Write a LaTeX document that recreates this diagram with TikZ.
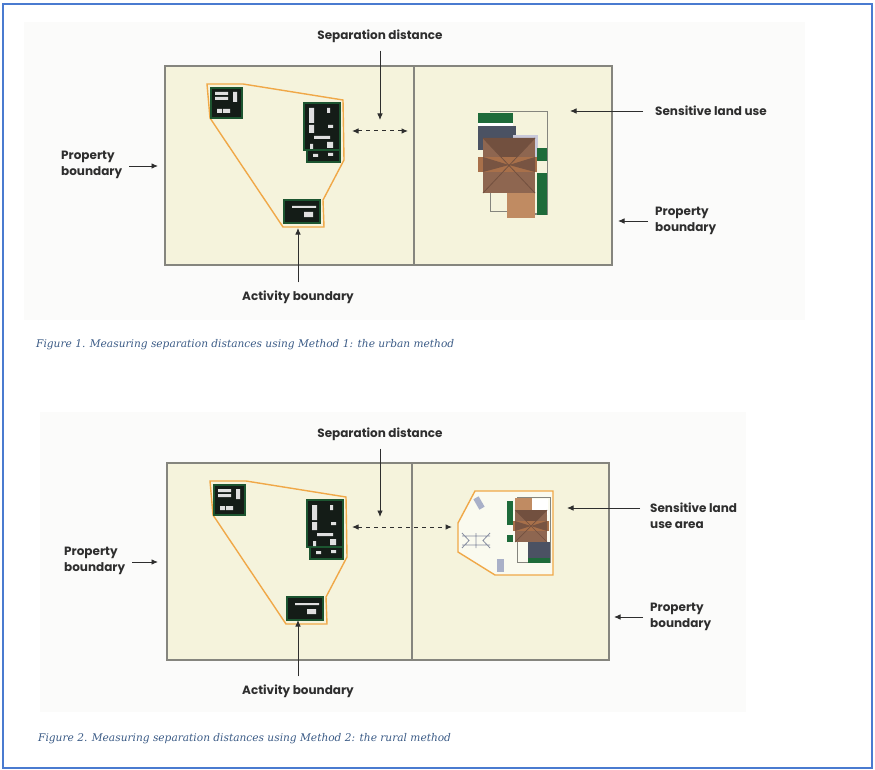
\documentclass[tikz,border=0pt]{standalone}
\usepackage{fontspec}
\setsansfont{Poppins}
\newfontfamily\capfont{DejaVu Serif}
\usetikzlibrary{arrows.meta}

\definecolor{frameblue}{HTML}{4A7BD0}
\definecolor{panel}{HTML}{FBFBFA}
\definecolor{lotfill}{HTML}{F5F3DC}
\definecolor{lotline}{HTML}{85857E}
\definecolor{actorange}{HTML}{F0A848}
\definecolor{shedgreen}{HTML}{1C5530}
\definecolor{shedblack}{HTML}{141C17}
\definecolor{housegreen}{HTML}{1E6B3A}
\definecolor{slate}{HTML}{4B5263}
\definecolor{lavender}{HTML}{C9C9DA}
\definecolor{roofdark}{HTML}{72503F}
\definecolor{roofmid}{HTML}{8E6650}
\definecolor{rooflight}{HTML}{C08B62}
\definecolor{roofband}{HTML}{A8704A}
\definecolor{yardgray}{HTML}{A9B0C8}
\definecolor{inkgray}{HTML}{2E2E2E}
\definecolor{capblue}{HTML}{3B5B86}

% one shed: green rim round a dark roof
\newcommand{\shedbox}[4]{\draw[shed] (#1,#2) rectangle (#3,#4);}

% activity area with its three sheds, drawn once per figure
\newcommand{\activitysite}{%
  \draw[actline] (207,84) -- (243,84) -- (343,100) -- (344,160) -- (323,200)
    -- (324,227) -- (283,227) -- (210,118) -- cycle;
  \shedbox{211}{88}{242}{118}
  \fill[vent] (215,92) rectangle (228,95) (215,97) rectangle (228,100)
    (233,92) rectangle (237,102) (217,109) rectangle (222,113)
    (223,109) rectangle (230,113);
  \shedbox{307}{148}{340}{162}
  \shedbox{304}{103}{340}{150}
  \fill[vent] (309,108) rectangle (314,123) (309,125) rectangle (314,133)
    (327,108) rectangle (330,113) (328,125) rectangle (333,128)
    (314,136) rectangle (330,139) (327,142) rectangle (333,148)
    (310,144) rectangle (313,149) (313,154) rectangle (318,157)
    (328,153) rectangle (333,156);
  \shedbox{284}{200}{320}{223}
  \fill[vent] (292,206) rectangle (316,208) (304,212) rectangle (313,217);
}

\begin{document}
\begin{tikzpicture}[x=1pt, y=-1pt,
  lot/.style={draw=lotline, line width=1.3pt, fill=lotfill},
  actline/.style={draw=actorange, line width=1.4pt},
  shed/.style={draw=shedgreen, line width=1.6pt, fill=shedblack},
  vent/.style={fill=white!75!gray},
  lbl/.style={font=\sffamily\bfseries\fontsize{12}{16}\selectfont,
    text=inkgray, inner sep=0pt, align=left},
  figcap/.style={font=\capfont\itshape\fontsize{10.6}{12}\selectfont,
    text=capblue, inner sep=0pt, anchor=west},
  pointer/.style={-{Latex[length=6.5pt,width=5.5pt]}, draw=inkgray, line width=0.9pt},
  gap/.style={{Latex[length=6.5pt,width=5.5pt]}-{Latex[length=6.5pt,width=5.5pt]},
    draw=inkgray, line width=1pt, dash pattern=on 4pt off 4pt}
]
\useasboundingbox (0,0) rectangle (875,770);
\draw[frameblue, line width=1.5pt] (3,4) rectangle (872,768);
\fill[panel] (24,22) rectangle (805,320);
\fill[panel] (40,412) rectangle (746,712);

%% Method 1: urban
\draw[lot] (165,66) rectangle (612,265);
\draw[lotline, line width=1.3pt] (414,66) -- (414,265);
\activitysite

% house on the neighbouring lot
\fill[housegreen] (478,113) rectangle (513,123);
\fill[white] (478,123) rectangle (513,126);
\fill[slate] (478,126) rectangle (516,150);
\fill[lavender] (513,135) rectangle (538,160);
\draw[lotline, line width=1pt] (490,112) -- (547,112) -- (547,214) -- (535,214);
\draw[lotline, line width=1pt] (490,186) -- (490,212) -- (507,212);
\fill[housegreen] (537,148) rectangle (547,161);
\fill[housegreen] (537,173) rectangle (547,215);
\fill[rooflight] (507,168) rectangle (535,218);
\fill[roofmid] (483,138) rectangle (535,193);
\fill[roofdark] (483,138) -- (535,138) -- (509,165) -- cycle;
\fill[roofband] (478,157) rectangle (537,172);
\fill[roofdark!80!roofmid] (483,157) -- (509,165) -- (483,172) -- cycle
  (535,157) -- (509,165) -- (535,172) -- cycle;
\draw[roofdark, line width=0.8pt] (483,138) -- (535,193) (535,138) -- (483,193);

\node[lbl] (sep1) at (380,36) {Separation distance};
\node[lbl, anchor=west] (prop1L) at (61,165) {Property\\boundary};
\node[lbl] (act1) at (298,297) {Activity boundary};
\node[lbl, anchor=west] (sens1) at (655,111) {Sensitive land use};
\node[lbl, anchor=west] (prop1R) at (655,221) {Property\\boundary};
\node[figcap] (cap1) at (36,345) {Figure 1. Measuring separation distances using Method 1: the urban method};

\coordinate (sep1tip) at (380,120);
\coordinate (prop1Ltip) at (158,166);
\coordinate (act1tip) at (298,228);
\coordinate (sens1tip) at (570,111);
\coordinate (prop1Rtip) at (618,221);
\coordinate (gap1a) at (352,131);
\coordinate (gap1b) at (408,131);

\draw[pointer, shorten <=8pt] (sep1) -- (sep1tip);
\draw[pointer, shorten <=7pt] (prop1L.east |- prop1Ltip) -- (prop1Ltip);
\draw[pointer, shorten <=8pt] (act1) -- (act1tip);
\draw[pointer, shorten <=12pt] (sens1.west) -- (sens1tip);
\draw[pointer, shorten <=7pt] (prop1R.west |- prop1Rtip) -- (prop1Rtip);
\draw[gap] (gap1a) -- (gap1b);

%% Method 2: rural
\draw[lot] (167,463) rectangle (609,660);
\draw[lotline, line width=1.3pt] (412,463) -- (412,660);
\begin{scope}[shift={(3,397)}]
  \activitysite
\end{scope}

% sensitive land use area round the farmhouse
\draw[actline, fill=white!55!lotfill] (475,491) -- (553,491) -- (553,575) -- (495,575)
  -- (458,552) -- (458,523) -- cycle;
\fill[white] (532,499) rectangle (548,515);
\draw[lotline, line width=1pt] (517,497) rectangle (550,562);
\fill[rooflight] (515,498) rectangle (532,516);
\fill[roofmid] (515,510) rectangle (547,542);
\fill[roofdark] (515,510) -- (547,510) -- (531,526) -- cycle;
\fill[roofband] (513,521) rectangle (549,531);
\fill[roofdark!80!roofmid] (515,521) -- (531,526) -- (515,531) -- cycle
  (547,521) -- (531,526) -- (547,531) -- cycle;
\draw[roofdark, line width=0.7pt] (515,510) -- (547,542) (547,510) -- (515,542);
\fill[slate] (528,542) rectangle (550,558);
\fill[housegreen] (528,558) rectangle (550,563);
\fill[housegreen] (507,501) rectangle (513,525);
\fill[housegreen] (507,535) rectangle (513,542);
% tank, clothesline and shed in the yard
\fill[yardgray, rotate around={30:(479,503)}] (476,497) rectangle (482,509);
\draw[yardgray!80!black, line width=0.8pt] (462,536) -- (490,536) (462,545) -- (490,545)
  (476,533) -- (476,548) (462,533) -- (469,540.5) -- (462,548)
  (490,533) -- (483,540.5) -- (490,548);
\fill[yardgray] (497,559) rectangle (504,572);

\node[lbl] (sep2) at (380,434) {Separation distance};
\node[lbl, anchor=west] (prop2L) at (64,561) {Property\\boundary};
\node[lbl] (act2) at (298,691) {Activity boundary};
\node[lbl, anchor=west] (sens2) at (650,516) {Sensitive land\\use area};
\node[lbl, anchor=west] (prop2R) at (650,617) {Property\\boundary};
\node[figcap] (cap2) at (38,739) {Figure 2. Measuring separation distances using Method 2: the rural method};

\coordinate (sep2tip) at (380,517);
\coordinate (prop2Ltip) at (158,562);
\coordinate (act2tip) at (298,620);
\coordinate (sens2tip) at (567,508);
\coordinate (prop2Rtip) at (614,617);
\coordinate (gap2a) at (352,527);
\coordinate (gap2b) at (452,527);

\draw[pointer, shorten <=8pt] (sep2) -- (sep2tip);
\draw[pointer, shorten <=7pt] (prop2L.east |- prop2Ltip) -- (prop2Ltip);
\draw[pointer, shorten <=8pt] (act2) -- (act2tip);
\draw[pointer, shorten <=10pt] (sens2.west |- sens2tip) -- (sens2tip);
\draw[pointer, shorten <=7pt] (prop2R.west |- prop2Rtip) -- (prop2Rtip);
\draw[gap] (gap2a) -- (gap2b);
\end{tikzpicture}
\end{document}
